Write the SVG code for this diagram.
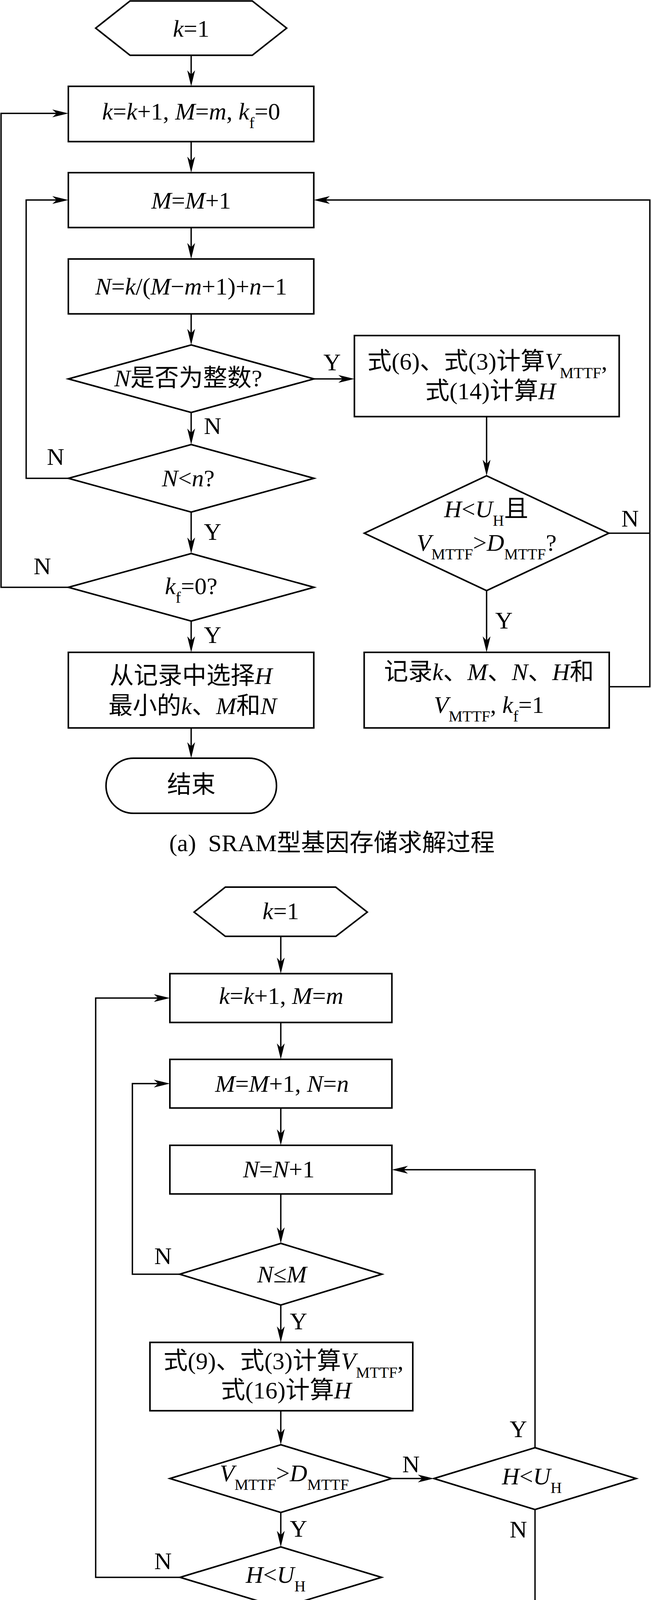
<svg xmlns="http://www.w3.org/2000/svg" width="1667" height="4459" viewBox="0 0 1667 4459">
<style>
.sh{fill:#fff;stroke:#000;stroke-width:4;stroke-linejoin:miter}
.cn{fill:none;stroke:#000;stroke-width:3.5}
.t{font-family:'Liberation Serif','Noto Sans CJK SC',serif;font-size:62px;fill:#000;text-anchor:middle}
.l{font-family:'Liberation Serif','Noto Sans CJK SC',serif;font-size:62px;fill:#000;text-anchor:start}
.i{font-style:italic}
.s{font-size:40px}
</style>
<defs>
<marker id="ah" viewBox="-42 -11 56 22" refX="-12" refY="0" markerWidth="56" markerHeight="22" markerUnits="userSpaceOnUse" orient="auto"><path d="M0,0 L-41,-10 L-30,0 L-41,10 Z" fill="#000"/></marker>
</defs>
<rect x="0" y="0" width="1667" height="4459" fill="#fff"/>

<g id="connectors">
<path class="cn" marker-end="url(#ah)" d="M489.5,141.5 V209"/>
<path class="cn" marker-end="url(#ah)" d="M489.5,362.5 V430"/>
<path class="cn" marker-end="url(#ah)" d="M489.5,582.5 V651"/>
<path class="cn" marker-end="url(#ah)" d="M489.5,803.5 V871"/>
<path class="cn" marker-end="url(#ah)" d="M489.5,1056 V1126"/>
<path class="cn" marker-end="url(#ah)" d="M489.5,1311 V1405"/>
<path class="cn" marker-end="url(#ah)" d="M489.5,1590 V1658"/>
<path class="cn" marker-end="url(#ah)" d="M489.5,1863.5 V1929"/>
<path class="cn" marker-end="url(#ah)" d="M804,970 H895.5"/>
<path class="cn" marker-end="url(#ah)" d="M1246,1066.5 V1206"/>
<path class="cn" marker-end="url(#ah)" d="M1246,1512 V1658"/>
<path class="cn" d="M1559,1365 H1664"/>
<path class="cn" marker-end="url(#ah)" d="M1560,1758 H1664 V512 H815.5"/>
<path class="cn" marker-end="url(#ah)" d="M175,1224.5 H67 V512 H163"/>
<path class="cn" marker-end="url(#ah)" d="M175,1503.5 H2.7 V290.3 H163"/>

<path class="cn" marker-end="url(#ah)" d="M719,2397 V2480.5"/>
<path class="cn" marker-end="url(#ah)" d="M719,2617.5 V2700"/>
<path class="cn" marker-end="url(#ah)" d="M719,2836.5 V2920"/>
<path class="cn" marker-end="url(#ah)" d="M719,3056.5 V3171"/>
<path class="cn" marker-end="url(#ah)" d="M719,3341 V3424.5"/>
<path class="cn" marker-end="url(#ah)" d="M719,3611.5 V3686.5"/>
<path class="cn" marker-end="url(#ah)" d="M719,3872 V3948"/>
<path class="cn" marker-end="url(#ah)" d="M719,4116 V4199.5"/>
<path class="cn" marker-end="url(#ah)" d="M1003,3785 H1099"/>
<path class="cn" marker-end="url(#ah)" d="M1370,3706 V2994.5 H1015.5"/>
<path class="cn" marker-end="url(#ah)" d="M1370,3864.5 V4275.5 H927.5"/>
<path class="cn" marker-end="url(#ah)" d="M460,3262 H339 V2774 H423"/>
<path class="cn" marker-end="url(#ah)" d="M461,4038 H245 V2555 H423"/>
</g>

<g id="labels">
<text class="l" x="828" y="948">Y</text>
<text class="l" x="522" y="1111">N</text>
<text class="l" x="120" y="1190">N</text>
<text class="l" x="522" y="1382">Y</text>
<text class="l" x="86" y="1470">N</text>
<text class="l" x="522" y="1646">Y</text>
<text class="l" x="1591" y="1348">N</text>
<text class="l" x="1268" y="1609">Y</text>
<text class="l" x="395" y="3236">N</text>
<text class="l" x="742" y="3403">Y</text>
<text class="l" x="1030" y="3769">N</text>
<text class="l" x="1305" y="3679">Y</text>
<text class="l" x="1305" y="3936">N</text>
<text class="l" x="742" y="3934">Y</text>
<text class="l" x="395" y="4017">N</text>
<text class="l" x="747" y="4182">Y</text>
</g>

<g id="a-start">
<polygon class="sh" points="245,72 333,2.5 646,2.5 734,72 646,141.5 333,141.5"/>
<text class="t" x="489.5" y="94"><tspan class="i">k</tspan>=1</text>
</g>
<g id="a-init">
<rect class="sh" x="175" y="221" width="628.5" height="141.5"/>
<text class="t" x="489.5" y="306"><tspan class="i">k</tspan>=<tspan class="i">k</tspan>+1, <tspan class="i">M</tspan>=<tspan class="i">m</tspan>, <tspan class="i">k</tspan><tspan class="s" dy="22">f</tspan><tspan dy="-22">=0</tspan></text>
</g>
<g id="a-incM">
<rect class="sh" x="175" y="442" width="628.5" height="140.5"/>
<text class="t" x="489.5" y="534"><tspan class="i">M</tspan>=<tspan class="i">M</tspan>+1</text>
</g>
<g id="a-calcN">
<rect class="sh" x="175" y="663" width="628.5" height="140.5"/>
<text class="t" x="489.5" y="754"><tspan class="i">N</tspan>=<tspan class="i">k</tspan>/(<tspan class="i">M</tspan>−<tspan class="i">m</tspan>+1)+<tspan class="i">n</tspan>−1</text>
</g>
<g id="a-isInt">
<polygon class="sh" points="489.5,883 804,970 489.5,1056 175,970"/>
<text class="t" x="482" y="989"><tspan class="i">N</tspan>是否为整数?</text>
</g>
<g id="a-Nlt">
<polygon class="sh" points="489.5,1138 804,1224.5 489.5,1311 175,1224.5"/>
<text class="t" x="482" y="1245"><tspan class="i">N</tspan>&lt;<tspan class="i">n</tspan>?</text>
</g>
<g id="a-kf">
<polygon class="sh" points="489.5,1417 804,1503.5 489.5,1590 175,1503.5"/>
<text class="t" x="489.5" y="1521"><tspan class="i">k</tspan><tspan class="s" dy="22">f</tspan><tspan dy="-22">=0?</tspan></text>
</g>
<g id="a-select">
<rect class="sh" x="175" y="1670" width="628.5" height="193.5"/>
<text class="t" x="489" y="1751">从记录中选择<tspan class="i">H</tspan></text>
<text class="t" x="493" y="1828">最小的<tspan class="i">k</tspan>、<tspan class="i">M</tspan>和<tspan class="i">N</tspan></text>
</g>
<g id="a-end">
<rect class="sh" x="271.5" y="1941" width="436.5" height="141" rx="70.5" ry="70.5"/>
<text class="t" x="490" y="2030">结束</text>
</g>
<g id="a-compute">
<rect class="sh" x="907.5" y="859" width="678" height="207.5"/>
<text class="t" x="1248" y="946">式(6)、式(3)计算<tspan class="i">V</tspan><tspan class="s" dy="22">MTTF</tspan><tspan dy="-22">,</tspan></text>
<text class="t" x="1256" y="1022">式(14)计算<tspan class="i">H</tspan></text>
</g>
<g id="a-check">
<polygon class="sh" points="1246,1218 1559,1365 1246,1512 933,1365"/>
<text class="t" x="1245" y="1324"><tspan class="i">H</tspan>&lt;<tspan class="i">U</tspan><tspan class="s" dy="22">H</tspan><tspan dy="-22">且</tspan></text>
<text class="t" x="1246" y="1410"><tspan class="i">V</tspan><tspan class="s" dy="22">MTTF</tspan><tspan dy="-22">&gt;</tspan><tspan class="i">D</tspan><tspan class="s" dy="22">MTTF</tspan><tspan dy="-22">?</tspan></text>
</g>
<g id="a-record">
<rect class="sh" x="932.5" y="1670" width="627.5" height="193.5"/>
<text class="t" x="1252" y="1741">记录<tspan class="i">k</tspan>、<tspan class="i">M</tspan>、<tspan class="i">N</tspan>、<tspan class="i">H</tspan>和</text>
<text class="t" x="1252" y="1825"><tspan class="i">V</tspan><tspan class="s" dy="22">MTTF</tspan><tspan dy="-22">, </tspan><tspan class="i">k</tspan><tspan class="s" dy="22">f</tspan><tspan dy="-22">=1</tspan></text>
</g>
<g id="a-caption">
<text class="t" x="850" y="2179">(a)&#160; SRAM型基因存储求解过程</text>
</g>

<g id="b-start">
<polygon class="sh" points="497,2335 577,2271 859.5,2271 940.5,2335 860,2397 577,2397"/>
<text class="t" x="719" y="2353"><tspan class="i">k</tspan>=1</text>
</g>
<g id="b-init">
<rect class="sh" x="435" y="2492.5" width="568.5" height="125"/>
<text class="t" x="720" y="2569.5"><tspan class="i">k</tspan>=<tspan class="i">k</tspan>+1, <tspan class="i">M</tspan>=<tspan class="i">m</tspan></text>
</g>
<g id="b-incM">
<rect class="sh" x="435" y="2712" width="568.5" height="124.5"/>
<text class="t" x="722" y="2794.5"><tspan class="i">M</tspan>=<tspan class="i">M</tspan>+1, <tspan class="i">N</tspan>=<tspan class="i">n</tspan></text>
</g>
<g id="b-incN">
<rect class="sh" x="435" y="2932" width="568.5" height="124.5"/>
<text class="t" x="714" y="3013.5"><tspan class="i">N</tspan>=<tspan class="i">N</tspan>+1</text>
</g>
<g id="b-NleM">
<polygon class="sh" points="719,3183 978,3262 719,3341 460,3262"/>
<text class="t" x="722" y="3283"><tspan class="i">N</tspan>≤<tspan class="i">M</tspan></text>
</g>
<g id="b-compute">
<rect class="sh" x="384" y="3436.5" width="673" height="175"/>
<text class="t" x="726" y="3505">式(9)、式(3)计算<tspan class="i">V</tspan><tspan class="s" dy="22">MTTF</tspan><tspan dy="-22">,</tspan></text>
<text class="t" x="733" y="3580">式(16)计算<tspan class="i">H</tspan></text>
</g>
<g id="b-vcheck">
<polygon class="sh" points="719,3698.5 1003,3785 719,3872 435,3785"/>
<text class="t" x="728" y="3792"><tspan class="i">V</tspan><tspan class="s" dy="22">MTTF</tspan><tspan dy="-22">&gt;</tspan><tspan class="i">D</tspan><tspan class="s" dy="22">MTTF</tspan></text>
</g>
<g id="b-hcheck-right">
<polygon class="sh" points="1370,3706 1629,3785 1370,3864.5 1111,3785"/>
<text class="t" x="1362" y="3800"><tspan class="i">H</tspan>&lt;<tspan class="i">U</tspan><tspan class="s" dy="22">H</tspan></text>
</g>
<g id="b-hcheck">
<polygon class="sh" points="719,3960 977,4038 719,4116 461,4038"/>
<text class="t" x="706" y="4052"><tspan class="i">H</tspan>&lt;<tspan class="i">U</tspan><tspan class="s" dy="22">H</tspan></text>
</g>
<g id="b-end">
<rect class="sh" x="521" y="4211.5" width="394.5" height="127.5" rx="63.75" ry="63.75"/>
<text class="t" x="724" y="4297">结束</text>
</g>
<g id="b-caption">
<text class="t" x="848" y="4440">(b) 寄存器型基因存储求解过程</text>
</g>
</svg>
